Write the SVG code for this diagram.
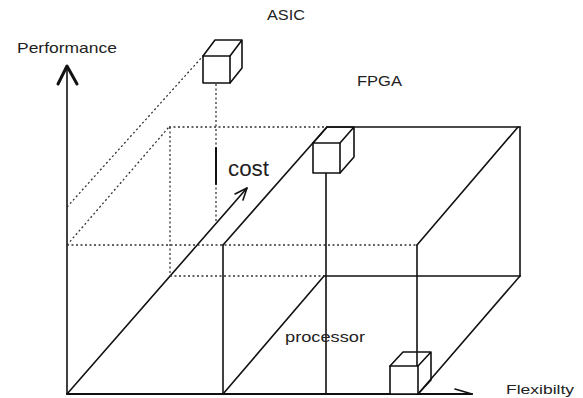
<svg xmlns="http://www.w3.org/2000/svg" width="583" height="398" viewBox="0 0 583 398">
<style>
.s{fill:none;stroke:#111;stroke-width:1.6;stroke-linecap:round;stroke-linejoin:round}
.d{fill:none;stroke:#333;stroke-width:1.3;stroke-dasharray:2 2.5}
.c{fill:#fff;stroke:#111;stroke-width:1.6;stroke-linejoin:round}
.t{font-family:"Liberation Sans",Arial,sans-serif;fill:#222}
</style>
<rect width="583" height="398" fill="#fff"/>
<g id="connectors">
  <!-- axes -->
  <line class="s" x1="67" y1="394" x2="67" y2="67"/>
  <polyline class="s" points="58,84 67,66 77,84" style="stroke-width:3"/>
  <line class="s" x1="67" y1="394" x2="472" y2="394" style="stroke-width:2"/>
  <line class="s" x1="455" y1="389" x2="472" y2="394"/>
  <!-- cost arrow -->
  <line class="s" x1="67" y1="394" x2="247" y2="188"/>
  <polyline class="s" points="235,194 247,188 243,200"/>
  <!-- front face -->
  <line class="d" x1="67" y1="245" x2="417" y2="245"/>
  <line class="s" x1="223" y1="245" x2="223" y2="394"/>
  <line class="s" x1="417" y1="245" x2="417" y2="394"/>
  <!-- depth edges -->
  <line class="s" x1="223" y1="394" x2="324" y2="276"/>
  <line class="s" x1="223" y1="245" x2="327" y2="127"/>
  <line class="s" x1="417" y1="245" x2="518" y2="127"/>
  <line class="s" x1="520" y1="276" x2="418" y2="394"/>
  <line class="d" x1="67" y1="245" x2="169" y2="127"/>
  <!-- back face -->
  <line class="d" x1="169" y1="127" x2="327" y2="127"/>
  <line class="s" x1="327" y1="127" x2="520" y2="127"/>
  <line class="s" x1="520" y1="127" x2="520" y2="276"/>
  <line class="d" x1="170" y1="276" x2="324" y2="276"/>
  <line class="s" x1="324" y1="276" x2="520" y2="276"/>
  <line class="d" x1="170" y1="127" x2="170" y2="276"/>
  <!-- ASIC projections -->
  <line class="d" x1="67" y1="207" x2="203" y2="56"/>
  <line class="d" x1="216" y1="84" x2="216" y2="222"/>
  <line class="s" x1="216" y1="148" x2="216" y2="184" style="stroke-width:2"/>
  <!-- FPGA drop -->
  <line class="s" x1="326" y1="173" x2="326" y2="394"/>
</g>
<g id="asic">
  <rect class="c" x="203" y="56" width="27" height="27"/>
  <path class="s" d="M203,56 L215,40 L242,40 L230,56 M242,40 L242,68 L230,83"/>
  <text class="t" x="267" y="20" font-size="14" textLength="38" lengthAdjust="spacingAndGlyphs">ASIC</text>
</g>
<g id="fpga">
  <rect class="c" x="313" y="143" width="27" height="30"/>
  <path class="s" d="M313,143 L327,127 L354,127 L340,143 M354,127 L354,157 L340,173"/>
  <text class="t" x="357" y="86" font-size="15" textLength="45" lengthAdjust="spacingAndGlyphs">FPGA</text>
</g>
<g id="processor">
  <rect class="c" x="390" y="366" width="28" height="28"/>
  <path class="s" d="M390,366 L403,352 L431,352 L418,366 M431,352 L431,380 L418,394"/>
  <text class="t" x="285" y="342" font-size="15" textLength="80" lengthAdjust="spacingAndGlyphs">processor</text>
</g>
<g id="labels">
  <text class="t" x="17" y="53" font-size="15" textLength="100" lengthAdjust="spacingAndGlyphs">Performance</text>
  <text class="t" x="228" y="176" font-size="22" textLength="41" lengthAdjust="spacingAndGlyphs">cost</text>
  <text class="t" x="506" y="394" font-size="13.5" textLength="68" lengthAdjust="spacingAndGlyphs">Flexibilty</text>
</g>
</svg>
